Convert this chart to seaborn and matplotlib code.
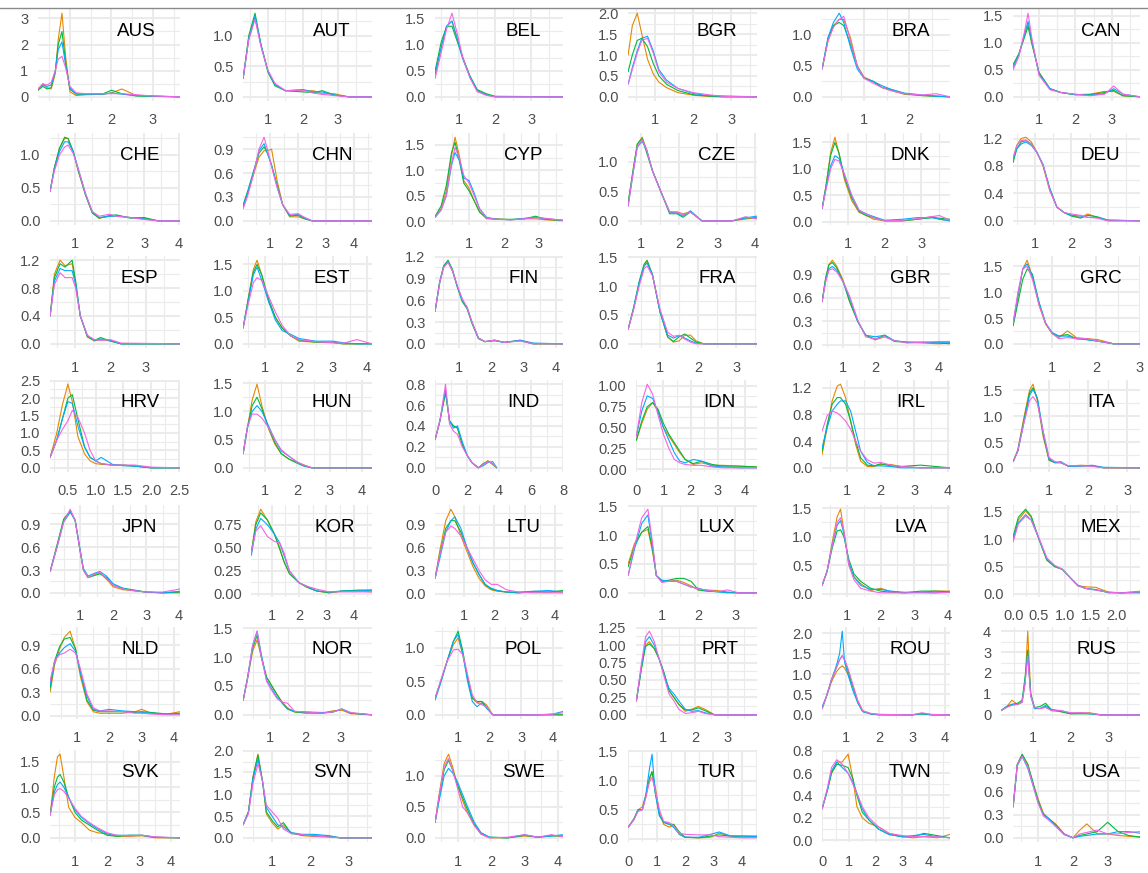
import matplotlib
matplotlib.use("Agg")
import matplotlib.pyplot as plt
from matplotlib.lines import Line2D
from matplotlib.ticker import MultipleLocator, FuncFormatter
import pandas as pd
import seaborn as sns

# facets, in reading order (6 per row)
COUNTRIES = ["AUS", "AUT", "BEL", "BGR", "BRA", "CAN",
             "CHE", "CHN", "CYP", "CZE", "DNK", "DEU",
             "ESP", "EST", "FIN", "FRA", "GBR", "GRC",
             "HRV", "HUN", "IND", "IDN", "IRL", "ITA",
             "JPN", "KOR", "LTU", "LUX", "LVA", "MEX",
             "NLD", "NOR", "POL", "PRT", "ROU", "RUS",
             "SVK", "SVN", "SWE", "TUR", "TWN", "USA"]
SERIES = ["wave 1", "wave 2", "wave 3", "wave 4"]

# tick spacing of each facet
Y_STEP = [1, 0.5, 0.5, 0.5, 0.5, 0.5,
          0.5, 0.3, 0.5, 0.5, 0.5, 0.4,
          0.4, 0.5, 0.3, 0.5, 0.3, 0.5,
          0.5, 0.5, 0.2, 0.25, 0.4, 0.5,
          0.3, 0.25, 0.3, 0.5, 0.5, 0.5,
          0.3, 0.5, 0.5, 0.25, 0.5, 1,
          0.5, 0.5, 0.5, 0.5, 0.2, 0.3]
X_STEP = [1, 1, 1, 1, 1, 1,
          1, 1, 1, 1, 1, 1,
          1, 1, 1, 1, 1, 1,
          0.5, 1, 2, 1, 1, 1,
          1, 1, 1, 1, 1, 0.5,
          1, 1, 1, 1, 1, 1,
          1, 1, 1, 1, 1, 1]
IND_XMAX = 8

# density curves: x knots, then one y list per series
aus_x = [0.23, 0.35, 0.45, 0.55, 0.65, 0.72, 0.81, 0.9, 1.0, 1.15, 1.4, 1.8, 2.0, 2.25, 2.6, 3.0, 3.65]
aus_y = [[0.25, 0.5, 0.35, 0.3, 0.9, 2.2, 3.2, 1.5, 0.2, 0.05, 0.08, 0.1, 0.15, 0.3, 0.05, 0.02, 0],
         [0.25, 0.4, 0.3, 0.35, 1.0, 2.0, 2.5, 1.3, 0.3, 0.1, 0.1, 0.12, 0.25, 0.12, 0.03, 0.02, 0],
         [0.3, 0.45, 0.4, 0.45, 1.0, 1.8, 2.1, 1.2, 0.35, 0.12, 0.1, 0.1, 0.15, 0.1, 0.05, 0.03, 0],
         [0.3, 0.5, 0.45, 0.55, 1.0, 1.45, 1.55, 1.1, 0.4, 0.15, 0.12, 0.12, 0.12, 0.12, 0.08, 0.03, 0]]
aut_x = [0.29, 0.45, 0.63, 0.8, 1.0, 1.2, 1.5, 2.0, 2.3, 2.55, 2.9, 3.3, 3.97]
aut_y = [[0.3, 0.95, 1.3, 0.85, 0.42, 0.2, 0.1, 0.1, 0.1, 0.05, 0.05, 0, 0],
         [0.3, 1.0, 1.37, 0.85, 0.4, 0.18, 0.1, 0.08, 0.07, 0.1, 0.03, 0, 0],
         [0.3, 0.95, 1.32, 0.85, 0.42, 0.2, 0.1, 0.12, 0.08, 0.08, 0.03, 0, 0],
         [0.3, 0.93, 1.27, 0.82, 0.43, 0.22, 0.1, 0.11, 0.06, 0.04, 0.02, 0, 0]]
bel_x = [0.33, 0.5, 0.65, 0.8, 0.95, 1.1, 1.3, 1.5, 1.75, 2.0, 3.89]
bel_y = [[0.4, 0.95, 1.35, 1.45, 1.1, 0.75, 0.38, 0.12, 0.04, 0, 0],
         [0.5, 1.05, 1.35, 1.35, 1.05, 0.75, 0.4, 0.14, 0.06, 0.01, 0],
         [0.45, 0.95, 1.35, 1.45, 1.1, 0.72, 0.38, 0.12, 0.04, 0, 0],
         [0.35, 0.85, 1.3, 1.6, 1.2, 0.75, 0.36, 0.1, 0.03, 0, 0]]
bgr_x = [0.29, 0.4, 0.53, 0.65, 0.8, 0.95, 1.1, 1.3, 1.6, 2.0, 2.4, 2.8, 3.68]
bgr_y = [[1.0, 1.7, 2.0, 1.5, 0.9, 0.55, 0.35, 0.22, 0.1, 0.04, 0.01, 0, 0],
         [0.6, 1.0, 1.35, 1.4, 1.2, 0.8, 0.5, 0.3, 0.15, 0.05, 0.02, 0, 0],
         [0.3, 0.7, 1.1, 1.4, 1.45, 1.1, 0.65, 0.4, 0.2, 0.08, 0.03, 0.02, 0],
         [0.3, 0.65, 1.05, 1.35, 1.4, 1.05, 0.6, 0.35, 0.2, 0.1, 0.05, 0.01, 0]]
bra_x = [0.07, 0.2, 0.32, 0.45, 0.55, 0.7, 0.85, 1.0, 1.2, 1.4, 1.6, 1.9, 2.3, 2.6, 2.91]
bra_y = [[0.45, 0.9, 1.15, 1.25, 1.25, 0.95, 0.5, 0.32, 0.25, 0.15, 0.1, 0.04, 0.02, 0.01, 0],
         [0.45, 0.95, 1.15, 1.2, 1.15, 0.85, 0.5, 0.3, 0.25, 0.15, 0.12, 0.05, 0.02, 0.01, 0],
         [0.45, 0.95, 1.2, 1.35, 1.2, 0.8, 0.45, 0.3, 0.25, 0.18, 0.12, 0.06, 0.03, 0.01, 0],
         [0.45, 0.9, 1.12, 1.25, 1.3, 0.9, 0.5, 0.3, 0.22, 0.15, 0.1, 0.05, 0.03, 0.05, 0]]
can_x = [0.29, 0.45, 0.6, 0.7, 0.8, 1.0, 1.3, 1.6, 2.0, 2.4, 2.8, 3.05, 3.3, 3.77]
can_y = [[0.55, 0.8, 1.15, 1.35, 1.0, 0.45, 0.15, 0.08, 0.04, 0.05, 0.1, 0.1, 0.02, 0],
         [0.6, 0.8, 1.1, 1.3, 1.0, 0.45, 0.15, 0.08, 0.04, 0.04, 0.08, 0.12, 0.02, 0],
         [0.55, 0.78, 1.15, 1.4, 1.05, 0.42, 0.15, 0.08, 0.04, 0.03, 0.06, 0.15, 0.05, 0],
         [0.5, 0.75, 1.2, 1.55, 1.1, 0.4, 0.13, 0.08, 0.05, 0.02, 0.05, 0.2, 0.05, 0]]
che_x = [0.28, 0.4, 0.55, 0.7, 0.8, 0.95, 1.1, 1.3, 1.5, 1.7, 2.0, 2.2, 2.6, 3.0, 3.4, 4.04]
che_y = [[0.45, 0.8, 1.1, 1.25, 1.25, 1.05, 0.75, 0.4, 0.12, 0.04, 0.07, 0.08, 0.05, 0.04, 0, 0],
         [0.45, 0.8, 1.1, 1.27, 1.25, 1.05, 0.75, 0.4, 0.12, 0.04, 0.08, 0.09, 0.04, 0.05, 0, 0],
         [0.45, 0.78, 1.05, 1.2, 1.2, 1.05, 0.78, 0.42, 0.14, 0.05, 0.07, 0.07, 0.05, 0.03, 0, 0],
         [0.45, 0.75, 1.0, 1.12, 1.15, 1.02, 0.78, 0.42, 0.14, 0.07, 0.1, 0.07, 0.05, 0.02, 0, 0]]
chn_x = [0.03, 0.2, 0.4, 0.6, 0.78, 0.9, 1.05, 1.25, 1.45, 1.7, 2.0, 2.2, 2.5, 4.65]
chn_y = [[0.18, 0.35, 0.58, 0.8, 0.88, 0.88, 0.9, 0.5, 0.2, 0.05, 0.05, 0.03, 0, 0],
         [0.2, 0.38, 0.62, 0.85, 0.93, 0.85, 0.7, 0.45, 0.2, 0.06, 0.07, 0.03, 0, 0],
         [0.18, 0.36, 0.6, 0.88, 0.97, 0.85, 0.7, 0.42, 0.2, 0.07, 0.08, 0.04, 0, 0],
         [0.15, 0.32, 0.58, 0.9, 1.05, 0.9, 0.68, 0.42, 0.2, 0.08, 0.09, 0.05, 0, 0]]
cyp_x = [0.03, 0.2, 0.35, 0.5, 0.6, 0.72, 0.85, 1.0, 1.15, 1.3, 1.5, 1.8, 2.2, 2.6, 2.9, 3.2, 3.69]
cyp_y = [[0.08, 0.25, 0.6, 1.3, 1.65, 1.3, 0.8, 0.65, 0.4, 0.2, 0.05, 0.05, 0.03, 0.05, 0.05, 0.03, 0.01],
         [0.1, 0.3, 0.7, 1.35, 1.55, 1.2, 0.75, 0.6, 0.4, 0.18, 0.06, 0.04, 0.04, 0.05, 0.1, 0.04, 0.02],
         [0.08, 0.22, 0.5, 1.1, 1.35, 1.2, 0.85, 0.8, 0.55, 0.25, 0.08, 0.04, 0.03, 0.06, 0.08, 0.05, 0.02],
         [0.08, 0.22, 0.5, 1.15, 1.45, 1.25, 0.9, 0.75, 0.5, 0.25, 0.06, 0.04, 0.03, 0.05, 0.07, 0.06, 0.02]]
cze_x = [0.66, 0.8, 0.9, 1.03, 1.15, 1.3, 1.55, 1.75, 1.95, 2.1, 2.3, 2.6, 3.4, 3.75, 4.05]
cze_y = [[0.3, 0.9, 1.3, 1.42, 1.2, 0.85, 0.45, 0.15, 0.15, 0.12, 0.15, 0, 0, 0.03, 0.05],
         [0.3, 0.9, 1.3, 1.4, 1.15, 0.85, 0.45, 0.12, 0.12, 0.06, 0.15, 0, 0, 0.05, 0.05],
         [0.25, 0.85, 1.25, 1.35, 1.2, 0.85, 0.45, 0.15, 0.13, 0.08, 0.17, 0, 0, 0.05, 0.08],
         [0.25, 0.85, 1.25, 1.38, 1.2, 0.85, 0.45, 0.15, 0.15, 0.1, 0.15, 0, 0, 0.07, 0.03]]
dnk_x = [0.29, 0.4, 0.52, 0.64, 0.75, 0.9, 1.1, 1.3, 1.5, 1.7, 2.0, 2.5, 2.9, 3.3, 3.5, 3.79]
dnk_y = [[0.25, 0.7, 1.3, 1.6, 1.3, 0.8, 0.4, 0.18, 0.12, 0.05, 0.02, 0.02, 0.05, 0.1, 0.05, 0.02],
         [0.25, 0.7, 1.25, 1.5, 1.3, 0.85, 0.45, 0.2, 0.12, 0.08, 0.02, 0.02, 0.05, 0.08, 0.07, 0.05],
         [0.25, 0.65, 1.05, 1.25, 1.2, 0.9, 0.5, 0.22, 0.15, 0.1, 0.03, 0.05, 0.08, 0.08, 0.05, 0.02],
         [0.25, 0.62, 1.0, 1.18, 1.15, 0.9, 0.5, 0.22, 0.15, 0.08, 0.02, 0.03, 0.06, 0.1, 0.12, 0.03]]
deu_x = [0.40, 0.5, 0.62, 0.75, 0.9, 1.05, 1.22, 1.4, 1.6, 1.8, 2.0, 2.25, 2.45, 2.7, 3.0, 3.88]
deu_y = [[0.9, 1.1, 1.2, 1.22, 1.15, 1.0, 0.8, 0.45, 0.2, 0.12, 0.08, 0.05, 0.1, 0.05, 0, 0],
         [0.85, 1.05, 1.15, 1.17, 1.12, 1.0, 0.82, 0.48, 0.2, 0.12, 0.07, 0.04, 0.08, 0.06, 0.01, 0],
         [0.9, 1.05, 1.12, 1.15, 1.1, 1.0, 0.82, 0.48, 0.2, 0.12, 0.08, 0.07, 0.05, 0.05, 0.01, 0],
         [0.92, 1.1, 1.17, 1.18, 1.12, 1.0, 0.82, 0.45, 0.2, 0.12, 0.1, 0.08, 0.05, 0.04, 0, 0]]
esp_x = [0.30, 0.42, 0.58, 0.72, 0.92, 1.02, 1.15, 1.35, 1.55, 1.72, 2.0, 2.3, 3.96]
esp_y = [[0.4, 1.0, 1.2, 1.12, 1.15, 0.85, 0.4, 0.1, 0.04, 0.06, 0.04, 0, 0],
         [0.4, 0.95, 1.15, 1.1, 1.2, 0.9, 0.4, 0.1, 0.05, 0.09, 0.04, 0, 0],
         [0.4, 0.9, 1.08, 1.05, 1.05, 0.85, 0.4, 0.12, 0.05, 0.07, 0.05, 0, 0],
         [0.4, 0.85, 1.02, 0.95, 0.95, 0.8, 0.4, 0.12, 0.06, 0.05, 0.06, 0.01, 0]]
est_x = [0.35, 0.5, 0.65, 0.76, 0.9, 1.1, 1.3, 1.5, 1.75, 2.0, 2.5, 3.0, 3.3, 3.7, 4.15]
est_y = [[0.3, 0.85, 1.4, 1.58, 1.3, 0.8, 0.5, 0.3, 0.15, 0.05, 0.03, 0.02, 0, 0, 0],
         [0.3, 0.85, 1.35, 1.5, 1.3, 0.85, 0.5, 0.3, 0.15, 0.07, 0.03, 0.03, 0, 0, 0],
         [0.3, 0.8, 1.3, 1.45, 1.2, 0.8, 0.45, 0.25, 0.18, 0.1, 0.05, 0.05, 0.02, 0, 0],
         [0.3, 0.75, 1.15, 1.25, 1.2, 0.9, 0.6, 0.35, 0.15, 0.08, 0.04, 0.02, 0.01, 0.08, 0]]
fin_x = [0.26, 0.4, 0.52, 0.66, 0.8, 0.95, 1.1, 1.25, 1.4, 1.6, 1.8, 2.1, 2.4, 2.9, 3.3, 4.22]
fin_y = [[0.45, 0.85, 1.05, 1.13, 1.0, 0.78, 0.6, 0.5, 0.3, 0.08, 0.03, 0.05, 0.02, 0.05, 0, 0],
         [0.45, 0.85, 1.07, 1.15, 1.02, 0.78, 0.58, 0.48, 0.28, 0.07, 0.03, 0.05, 0.02, 0.04, 0, 0],
         [0.45, 0.83, 1.05, 1.13, 1.0, 0.78, 0.6, 0.5, 0.3, 0.08, 0.03, 0.04, 0.02, 0.05, 0.01, 0],
         [0.45, 0.84, 1.05, 1.12, 1.0, 0.8, 0.62, 0.5, 0.3, 0.08, 0.03, 0.05, 0.02, 0.04, 0, 0]]
fra_x = [0.16, 0.3, 0.45, 0.58, 0.66, 0.8, 1.0, 1.2, 1.35, 1.5, 1.65, 1.8, 1.95, 2.15, 3.55]
fra_y = [[0.25, 0.6, 1.05, 1.35, 1.42, 1.2, 0.55, 0.12, 0.03, 0.05, 0.15, 0.15, 0.05, 0, 0],
         [0.25, 0.62, 1.08, 1.38, 1.45, 1.2, 0.55, 0.12, 0.04, 0.12, 0.17, 0.1, 0.03, 0, 0],
         [0.25, 0.6, 1.05, 1.35, 1.4, 1.2, 0.55, 0.15, 0.1, 0.14, 0.1, 0.05, 0.01, 0, 0],
         [0.25, 0.58, 1.0, 1.3, 1.35, 1.18, 0.6, 0.2, 0.13, 0.15, 0.08, 0.03, 0, 0, 0]]
gbr_x = [0.34, 0.45, 0.55, 0.66, 0.8, 1.0, 1.2, 1.45, 1.7, 2.0, 2.3, 2.6, 3.0, 3.5, 4.0, 4.34]
gbr_y = [[0.55, 0.85, 1.02, 1.08, 1.0, 0.82, 0.55, 0.3, 0.12, 0.06, 0.1, 0.05, 0.03, 0.02, 0.01, 0.02],
         [0.55, 0.85, 1.02, 1.05, 0.98, 0.8, 0.55, 0.3, 0.12, 0.07, 0.12, 0.04, 0.03, 0.03, 0.02, 0.01],
         [0.55, 0.82, 0.97, 1.0, 0.95, 0.8, 0.6, 0.3, 0.12, 0.1, 0.12, 0.05, 0.03, 0.03, 0.03, 0.03],
         [0.55, 0.8, 0.95, 0.97, 0.93, 0.8, 0.62, 0.32, 0.1, 0.07, 0.1, 0.05, 0.02, 0.03, 0.04, 0.04]]
grc_x = [0.11, 0.22, 0.33, 0.43, 0.55, 0.7, 0.85, 1.0, 1.15, 1.35, 1.55, 1.8, 2.05, 2.4, 3.0]
grc_y = [[0.35, 0.9, 1.45, 1.62, 1.3, 0.75, 0.38, 0.2, 0.12, 0.25, 0.12, 0.1, 0.08, 0, 0],
         [0.35, 0.8, 1.25, 1.45, 1.35, 0.8, 0.4, 0.2, 0.15, 0.18, 0.1, 0.08, 0.05, 0, 0],
         [0.4, 0.95, 1.45, 1.55, 1.3, 0.8, 0.4, 0.22, 0.15, 0.15, 0.1, 0.08, 0.05, 0, 0],
         [0.4, 1.0, 1.45, 1.5, 1.25, 0.75, 0.4, 0.2, 0.1, 0.12, 0.1, 0.1, 0.05, 0, 0]]
hrv_x = [0.18, 0.3, 0.4, 0.5, 0.58, 0.68, 0.8, 0.9, 1.0, 1.1, 1.3, 1.5, 1.7, 2.0, 2.52]
hrv_y = [[0.3, 1.0, 1.8, 2.4, 1.9, 0.9, 0.4, 0.2, 0.12, 0.1, 0.08, 0.07, 0.05, 0, 0],
         [0.3, 0.8, 1.4, 2.0, 2.1, 1.4, 0.6, 0.3, 0.2, 0.12, 0.08, 0.08, 0.05, 0, 0],
         [0.3, 0.8, 1.4, 1.9, 1.85, 1.2, 0.6, 0.3, 0.2, 0.3, 0.1, 0.06, 0.05, 0, 0],
         [0.3, 0.8, 1.1, 1.35, 1.65, 1.45, 1.0, 0.5, 0.2, 0.12, 0.08, 0.08, 0.08, 0.02, 0]]
hun_x = [0.32, 0.45, 0.6, 0.75, 0.9, 1.1, 1.3, 1.5, 1.75, 2.0, 2.2, 2.45, 4.31]
hun_y = [[0.25, 0.7, 1.2, 1.48, 1.1, 0.7, 0.42, 0.25, 0.15, 0.1, 0.05, 0, 0],
         [0.25, 0.7, 1.1, 1.25, 1.05, 0.72, 0.45, 0.25, 0.15, 0.08, 0.03, 0, 0],
         [0.25, 0.7, 1.0, 1.1, 1.0, 0.75, 0.5, 0.3, 0.2, 0.1, 0.04, 0, 0],
         [0.25, 0.72, 0.95, 0.95, 0.88, 0.72, 0.5, 0.32, 0.2, 0.1, 0.05, 0, 0]]
ind_x = [0.0, 0.3, 0.65, 0.9, 1.15, 1.4, 1.7, 2.0, 2.3, 2.7, 3.0, 3.3, 3.6, 3.85]
ind_y = [[0.27, 0.45, 0.72, 0.45, 0.4, 0.38, 0.22, 0.12, 0.05, 0.0, 0.03, 0.07, 0.03, 0.0],
         [0.27, 0.45, 0.72, 0.45, 0.4, 0.38, 0.22, 0.12, 0.05, 0.0, 0.04, 0.06, 0.04, 0.0],
         [0.27, 0.45, 0.75, 0.45, 0.38, 0.4, 0.25, 0.12, 0.05, 0.0, 0.02, 0.05, 0.06, 0.0],
         [0.27, 0.45, 0.8, 0.42, 0.35, 0.32, 0.2, 0.12, 0.05, 0.0, 0.03, 0.06, 0.04, 0.0]]
idn_x = [0.0, 0.2, 0.4, 0.6, 0.8, 1.0, 1.2, 1.4, 1.6, 1.8, 2.1, 2.4, 2.8, 3.2, 3.8, 4.45]
idn_y = [[0.35, 0.55, 0.72, 0.8, 0.7, 0.5, 0.4, 0.3, 0.2, 0.12, 0.06, 0.08, 0.05, 0.05, 0.04, 0.03],
         [0.35, 0.58, 0.75, 0.8, 0.72, 0.55, 0.42, 0.32, 0.22, 0.12, 0.07, 0.1, 0.06, 0.04, 0.04, 0.03],
         [0.4, 0.7, 0.88, 0.85, 0.68, 0.5, 0.35, 0.2, 0.1, 0.08, 0.12, 0.1, 0.04, 0.03, 0.02, 0.02],
         [0.4, 0.8, 1.02, 0.9, 0.65, 0.42, 0.25, 0.12, 0.08, 0.06, 0.05, 0.05, 0.03, 0.02, 0.02, 0.02]]
irl_x = [0.25, 0.4, 0.55, 0.7, 0.8, 0.95, 1.1, 1.25, 1.4, 1.6, 1.8, 2.0, 2.3, 2.6, 3.2, 4.07]
irl_y = [[0.2, 0.6, 1.0, 1.22, 1.25, 1.05, 0.7, 0.35, 0.1, 0.02, 0.02, 0.05, 0.05, 0.02, 0, 0],
         [0.25, 0.65, 0.95, 1.05, 1.05, 0.95, 0.7, 0.4, 0.15, 0.04, 0.03, 0.06, 0.03, 0.02, 0.04, 0],
         [0.3, 0.6, 0.85, 0.95, 1.0, 1.0, 0.85, 0.55, 0.25, 0.08, 0.03, 0.03, 0.02, 0, 0, 0],
         [0.55, 0.78, 0.85, 0.82, 0.78, 0.7, 0.58, 0.4, 0.25, 0.12, 0.07, 0.08, 0.04, 0.02, 0, 0]]
ita_x = [0.08, 0.2, 0.35, 0.5, 0.59, 0.7, 0.85, 1.0, 1.15, 1.3, 1.5, 1.8, 2.1, 2.4, 3.33]
ita_y = [[0.12, 0.35, 0.95, 1.5, 1.62, 1.3, 0.6, 0.15, 0.1, 0.1, 0.03, 0.05, 0.04, 0, 0],
         [0.12, 0.33, 0.9, 1.45, 1.55, 1.35, 0.65, 0.15, 0.1, 0.1, 0.03, 0.04, 0.04, 0, 0],
         [0.12, 0.32, 0.85, 1.4, 1.52, 1.35, 0.7, 0.18, 0.1, 0.12, 0.03, 0.03, 0.05, 0.01, 0],
         [0.12, 0.32, 0.85, 1.3, 1.38, 1.25, 0.7, 0.2, 0.12, 0.1, 0.04, 0.04, 0.03, 0, 0]]
jpn_x = [0.09, 0.3, 0.5, 0.7, 0.85, 1.0, 1.1, 1.24, 1.45, 1.6, 1.8, 2.0, 2.3, 2.6, 3.0, 3.5, 4.03]
jpn_y = [[0.28, 0.62, 0.95, 1.07, 0.95, 0.55, 0.3, 0.2, 0.24, 0.26, 0.18, 0.08, 0.04, 0.03, 0.01, 0, 0],
         [0.28, 0.63, 0.97, 1.08, 0.95, 0.55, 0.3, 0.2, 0.23, 0.25, 0.2, 0.1, 0.06, 0.04, 0.01, 0, 0.01],
         [0.28, 0.6, 0.93, 1.06, 0.96, 0.57, 0.32, 0.22, 0.26, 0.28, 0.22, 0.12, 0.06, 0.03, 0.01, 0, 0.02],
         [0.28, 0.6, 0.93, 1.1, 0.95, 0.55, 0.3, 0.2, 0.25, 0.27, 0.18, 0.1, 0.05, 0.03, 0.01, 0.01, 0.05]]
kor_x = [0.26, 0.42, 0.6, 0.85, 1.1, 1.3, 1.45, 1.65, 2.0, 2.3, 2.65, 3.1, 3.6, 4.2, 4.67]
kor_y = [[0.45, 0.78, 0.92, 0.8, 0.65, 0.5, 0.35, 0.22, 0.12, 0.07, 0.03, 0.01, 0.03, 0.03, 0.02],
         [0.45, 0.75, 0.88, 0.8, 0.65, 0.48, 0.35, 0.22, 0.12, 0.07, 0.03, 0.01, 0.03, 0.04, 0.04],
         [0.42, 0.7, 0.82, 0.75, 0.65, 0.55, 0.42, 0.25, 0.12, 0.08, 0.03, 0.02, 0.03, 0.03, 0.04],
         [0.45, 0.68, 0.74, 0.62, 0.57, 0.55, 0.45, 0.25, 0.12, 0.08, 0.05, 0.02, 0.02, 0.02, 0.02]]
ltu_x = [0.05, 0.2, 0.4, 0.57, 0.7, 0.9, 1.1, 1.3, 1.5, 1.7, 1.9, 2.1, 2.4, 2.8, 3.3, 3.8, 4.27]
ltu_y = [[0.2, 0.55, 0.95, 1.1, 1.0, 0.75, 0.55, 0.35, 0.2, 0.1, 0.05, 0.03, 0.02, 0.01, 0.03, 0.02, 0.02],
         [0.2, 0.5, 0.85, 0.95, 0.95, 0.8, 0.6, 0.4, 0.25, 0.12, 0.06, 0.04, 0.02, 0.01, 0.02, 0.02, 0.04],
         [0.2, 0.45, 0.8, 0.95, 1.0, 0.85, 0.6, 0.4, 0.25, 0.12, 0.07, 0.04, 0.02, 0.02, 0.03, 0.04, 0.02],
         [0.2, 0.5, 0.8, 0.88, 0.85, 0.75, 0.6, 0.45, 0.3, 0.18, 0.12, 0.12, 0.05, 0.02, 0.01, 0.01, 0.01]]
lux_x = [0.08, 0.25, 0.45, 0.62, 0.75, 0.85, 1.0, 1.2, 1.4, 1.6, 1.8, 2.0, 2.2, 2.5, 2.8, 3.1, 3.6]
lux_y = [[0.5, 0.85, 1.05, 1.1, 0.7, 0.3, 0.2, 0.2, 0.22, 0.18, 0.12, 0.05, 0.05, 0.04, 0.01, 0, 0],
         [0.45, 0.8, 1.05, 1.15, 0.75, 0.3, 0.2, 0.22, 0.25, 0.25, 0.2, 0.05, 0.03, 0.02, 0.01, 0, 0],
         [0.3, 0.75, 1.2, 1.35, 0.8, 0.3, 0.22, 0.2, 0.2, 0.15, 0.1, 0.08, 0.04, 0.02, 0, 0, 0],
         [0.3, 0.8, 1.3, 1.45, 0.85, 0.3, 0.18, 0.2, 0.2, 0.15, 0.1, 0.07, 0.05, 0.02, 0.05, 0, 0]]
lva_x = [0.25, 0.4, 0.55, 0.7, 0.8, 0.9, 1.05, 1.2, 1.4, 1.7, 2.0, 2.3, 2.7, 3.2, 3.6, 4.07]
lva_y = [[0.15, 0.4, 0.9, 1.35, 1.48, 1.1, 0.5, 0.3, 0.18, 0.06, 0.1, 0.04, 0.02, 0.03, 0.05, 0.05],
         [0.15, 0.4, 0.8, 1.1, 1.12, 1.0, 0.6, 0.35, 0.22, 0.1, 0.05, 0.03, 0.02, 0.05, 0.05, 0.04],
         [0.15, 0.4, 0.85, 1.2, 1.28, 1.05, 0.55, 0.3, 0.15, 0.08, 0.08, 0.05, 0.03, 0.03, 0.02, 0.03],
         [0.15, 0.4, 0.85, 1.25, 1.33, 1.1, 0.5, 0.25, 0.1, 0.05, 0.02, 0.02, 0.02, 0.02, 0.02, 0.03]]
mex_x = [0.0, 0.1, 0.24, 0.35, 0.5, 0.65, 0.8, 0.95, 1.1, 1.25, 1.4, 1.6, 1.85, 2.1, 2.45]
mex_y = [[1.0, 1.35, 1.52, 1.4, 1.0, 0.62, 0.5, 0.45, 0.3, 0.15, 0.13, 0.12, 0.03, 0.02, 0.05],
         [1.05, 1.4, 1.55, 1.42, 1.0, 0.62, 0.5, 0.45, 0.3, 0.15, 0.1, 0.08, 0.02, 0.02, 0.03],
         [1.0, 1.3, 1.45, 1.35, 1.0, 0.65, 0.52, 0.45, 0.3, 0.16, 0.1, 0.07, 0.03, 0.02, 0.02],
         [0.95, 1.28, 1.42, 1.35, 1.02, 0.66, 0.52, 0.45, 0.3, 0.15, 0.1, 0.07, 0.03, 0.02, 0.04]]
nld_x = [0.16, 0.3, 0.45, 0.6, 0.78, 0.95, 1.1, 1.3, 1.5, 1.7, 2.0, 2.4, 2.8, 3.0, 3.3, 3.8, 4.19]
nld_y = [[0.3, 0.65, 0.85, 1.0, 1.08, 0.85, 0.5, 0.18, 0.05, 0.03, 0.03, 0.03, 0.05, 0.08, 0.03, 0.02, 0.05],
         [0.35, 0.7, 0.88, 0.98, 1.0, 0.85, 0.55, 0.2, 0.07, 0.05, 0.05, 0.05, 0.04, 0.05, 0.04, 0.02, 0.03],
         [0.4, 0.7, 0.8, 0.87, 0.92, 0.82, 0.55, 0.25, 0.08, 0.06, 0.08, 0.06, 0.05, 0.04, 0.03, 0.02, 0.02],
         [0.45, 0.7, 0.78, 0.8, 0.85, 0.8, 0.6, 0.28, 0.1, 0.06, 0.06, 0.05, 0.03, 0.03, 0.02, 0.01, 0.01]]
nor_x = [0.23, 0.35, 0.5, 0.63, 0.75, 0.9, 1.05, 1.2, 1.35, 1.5, 1.7, 2.0, 2.5, 2.8, 3.05, 3.3, 3.91]
nor_y = [[0.25, 0.6, 1.1, 1.3, 1.0, 0.65, 0.5, 0.35, 0.22, 0.12, 0.05, 0.04, 0.03, 0.07, 0.08, 0.02, 0],
         [0.25, 0.62, 1.15, 1.38, 1.0, 0.65, 0.5, 0.35, 0.2, 0.1, 0.05, 0.03, 0.03, 0.05, 0.1, 0.03, 0],
         [0.25, 0.62, 1.2, 1.45, 1.05, 0.6, 0.45, 0.3, 0.2, 0.1, 0.06, 0.05, 0.04, 0.05, 0.1, 0.03, 0],
         [0.25, 0.6, 1.2, 1.45, 1.0, 0.58, 0.42, 0.28, 0.22, 0.2, 0.06, 0.05, 0.03, 0.05, 0.1, 0.04, 0]]
pol_x = [0.27, 0.45, 0.65, 0.85, 1.0, 1.15, 1.3, 1.45, 1.6, 1.75, 1.9, 2.1, 3.5, 4.0, 4.33]
pol_y = [[0.25, 0.5, 0.8, 1.05, 1.15, 0.9, 0.55, 0.25, 0.18, 0.2, 0.15, 0, 0, 0, 0],
         [0.25, 0.5, 0.8, 1.1, 1.25, 0.95, 0.55, 0.25, 0.2, 0.2, 0.12, 0, 0, 0, 0],
         [0.22, 0.48, 0.8, 1.1, 1.2, 0.9, 0.5, 0.2, 0.12, 0.18, 0.1, 0, 0, 0.01, 0.05],
         [0.25, 0.52, 0.8, 0.97, 0.98, 0.9, 0.6, 0.3, 0.18, 0.15, 0.12, 0, 0, 0.01, 0.03]]
prt_x = [0.2, 0.35, 0.48, 0.6, 0.75, 0.9, 1.05, 1.2, 1.35, 1.5, 1.7, 1.9, 2.1, 2.3, 2.6, 3.9]
prt_y = [[0.2, 0.65, 1.0, 1.05, 0.95, 0.8, 0.6, 0.35, 0.25, 0.15, 0.05, 0.08, 0.12, 0.08, 0, 0],
         [0.2, 0.65, 0.98, 1.02, 0.95, 0.8, 0.6, 0.35, 0.25, 0.15, 0.07, 0.07, 0.1, 0.06, 0, 0],
         [0.2, 0.68, 1.05, 1.12, 1.0, 0.8, 0.58, 0.38, 0.3, 0.2, 0.08, 0.05, 0.06, 0.03, 0, 0],
         [0.2, 0.72, 1.12, 1.2, 1.05, 0.8, 0.55, 0.3, 0.2, 0.08, 0.02, 0.03, 0.05, 0.02, 0, 0]]
rou_x = [0.27, 0.4, 0.55, 0.7, 0.8, 0.88, 0.95, 1.05, 1.2, 1.35, 1.5, 1.75, 2.0, 3.0, 3.3, 3.6, 4.15]
rou_y = [[0.15, 0.45, 0.8, 1.05, 1.15, 1.2, 1.15, 1.0, 0.7, 0.35, 0.1, 0.03, 0.01, 0, 0.03, 0, 0],
         [0.15, 0.45, 0.85, 1.15, 1.35, 1.45, 1.35, 1.1, 0.7, 0.3, 0.08, 0.02, 0, 0, 0.02, 0, 0],
         [0.2, 0.45, 0.85, 1.2, 1.5, 2.05, 1.3, 1.0, 0.6, 0.3, 0.08, 0.02, 0, 0, 0.03, 0, 0],
         [0.15, 0.45, 0.85, 1.15, 1.35, 1.45, 1.35, 1.15, 0.75, 0.35, 0.1, 0.03, 0.01, 0, 0.05, 0.01, 0]]
rus_x = [0.16, 0.3, 0.45, 0.6, 0.72, 0.8, 0.87, 0.95, 1.05, 1.2, 1.34, 1.5, 1.75, 2.0, 2.3, 2.5, 2.8, 3.84]
rus_y = [[0.2, 0.35, 0.7, 0.5, 0.6, 1.5, 4.0, 1.0, 0.3, 0.3, 0.4, 0.2, 0.15, 0.05, 0.08, 0.1, 0, 0],
         [0.2, 0.35, 0.5, 0.55, 0.7, 1.8, 3.1, 1.0, 0.35, 0.4, 0.55, 0.25, 0.15, 0.05, 0.05, 0.05, 0, 0],
         [0.2, 0.4, 0.5, 0.5, 0.6, 1.6, 2.9, 0.9, 0.3, 0.3, 0.45, 0.25, 0.2, 0.08, 0.08, 0.05, 0, 0],
         [0.2, 0.35, 0.45, 0.5, 0.6, 1.5, 2.8, 0.9, 0.35, 0.3, 0.35, 0.2, 0.2, 0.1, 0.1, 0.08, 0, 0]]
svk_x = [0.22, 0.35, 0.45, 0.53, 0.65, 0.8, 1.0, 1.2, 1.45, 1.7, 2.0, 2.3, 2.7, 3.1, 3.5, 4.28]
svk_y = [[0.45, 1.2, 1.6, 1.65, 1.2, 0.6, 0.4, 0.3, 0.15, 0.1, 0.08, 0.03, 0.03, 0.04, 0, 0],
         [0.45, 1.0, 1.2, 1.25, 1.1, 0.8, 0.5, 0.35, 0.25, 0.15, 0.05, 0.03, 0.05, 0.05, 0.01, 0],
         [0.45, 0.9, 1.05, 1.1, 1.0, 0.8, 0.55, 0.4, 0.28, 0.18, 0.08, 0.05, 0.05, 0.05, 0.01, 0],
         [0.45, 0.85, 0.95, 0.97, 0.92, 0.78, 0.58, 0.42, 0.3, 0.2, 0.1, 0.05, 0.04, 0.05, 0.02, 0]]
svn_x = [0.24, 0.38, 0.5, 0.63, 0.75, 0.85, 1.0, 1.15, 1.3, 1.5, 1.8, 2.1, 2.5, 2.8, 3.63]
svn_y = [[0.3, 0.6, 1.4, 1.92, 1.3, 0.55, 0.35, 0.2, 0.3, 0.12, 0.05, 0.03, 0.02, 0, 0],
         [0.3, 0.6, 1.4, 1.9, 1.3, 0.6, 0.4, 0.25, 0.35, 0.1, 0.06, 0.05, 0.03, 0, 0],
         [0.3, 0.58, 1.35, 1.8, 1.3, 0.7, 0.5, 0.3, 0.25, 0.12, 0.08, 0.08, 0.05, 0, 0],
         [0.3, 0.55, 1.25, 1.7, 1.3, 0.75, 0.6, 0.45, 0.2, 0.1, 0.07, 0.04, 0.02, 0, 0]]
swe_x = [0.33, 0.45, 0.6, 0.73, 0.85, 1.0, 1.15, 1.3, 1.5, 1.7, 1.95, 2.5, 3.0, 3.4, 3.8, 4.15]
swe_y = [[0.25, 0.7, 1.2, 1.35, 1.15, 0.85, 0.6, 0.4, 0.2, 0.06, 0, 0, 0.03, 0.01, 0.04, 0.02],
         [0.25, 0.65, 1.1, 1.25, 1.1, 0.85, 0.65, 0.45, 0.22, 0.08, 0.01, 0, 0.04, 0.01, 0.03, 0.03],
         [0.25, 0.6, 1.0, 1.12, 1.05, 0.9, 0.7, 0.5, 0.25, 0.08, 0.01, 0, 0.05, 0.01, 0.03, 0.05],
         [0.25, 0.68, 1.15, 1.28, 1.1, 0.8, 0.5, 0.4, 0.2, 0.06, 0, 0.01, 0.05, 0.01, 0.05, 0.02]]
tur_x = [0.0, 0.2, 0.35, 0.5, 0.62, 0.75, 0.84, 0.95, 1.1, 1.25, 1.45, 1.6, 1.8, 2.0, 2.5, 2.9, 3.2, 3.6, 4.0, 4.53]
tur_y = [[0.2, 0.35, 0.5, 0.55, 0.75, 1.0, 1.15, 0.9, 0.45, 0.25, 0.2, 0.25, 0.08, 0.03, 0.02, 0.03, 0.1, 0.05, 0.03, 0.03],
         [0.2, 0.33, 0.5, 0.5, 0.72, 1.05, 1.15, 0.8, 0.4, 0.28, 0.25, 0.25, 0.12, 0.03, 0.02, 0.05, 0.07, 0.05, 0.05, 0.05],
         [0.2, 0.33, 0.5, 0.5, 0.75, 1.2, 1.45, 0.8, 0.4, 0.3, 0.25, 0.2, 0.08, 0.03, 0.03, 0.08, 0.12, 0.05, 0.05, 0.04],
         [0.2, 0.33, 0.47, 0.5, 0.7, 0.98, 1.05, 0.85, 0.5, 0.3, 0.28, 0.22, 0.1, 0.08, 0.07, 0.07, 0.04, 0.03, 0.02, 0.02]]
twn_x = [0.0, 0.2, 0.35, 0.55, 0.75, 0.97, 1.15, 1.3, 1.5, 1.75, 2.1, 2.5, 3.0, 3.4, 3.8, 4.3, 4.78]
twn_y = [[0.28, 0.45, 0.6, 0.7, 0.7, 0.77, 0.55, 0.3, 0.2, 0.15, 0.12, 0.06, 0.03, 0.02, 0.03, 0.02, 0.05],
         [0.28, 0.45, 0.6, 0.68, 0.67, 0.65, 0.55, 0.4, 0.25, 0.18, 0.1, 0.05, 0.03, 0.03, 0.06, 0.04, 0.02],
         [0.28, 0.45, 0.62, 0.7, 0.65, 0.6, 0.52, 0.42, 0.28, 0.18, 0.1, 0.05, 0.03, 0.04, 0.05, 0.03, 0.02],
         [0.28, 0.47, 0.65, 0.72, 0.68, 0.6, 0.5, 0.42, 0.3, 0.2, 0.12, 0.06, 0.04, 0.03, 0.03, 0.03, 0.02]]
usa_x = [0.28, 0.4, 0.54, 0.7, 0.85, 1.0, 1.15, 1.3, 1.5, 1.75, 2.0, 2.2, 2.4, 2.7, 3.0, 3.3, 3.6, 3.93]
usa_y = [[0.4, 0.95, 1.07, 0.95, 0.7, 0.5, 0.32, 0.25, 0.18, 0.05, 0.0, 0.1, 0.18, 0.05, 0.05, 0.03, 0.02, 0.01],
         [0.4, 0.95, 1.08, 0.95, 0.72, 0.48, 0.3, 0.25, 0.17, 0.05, 0.0, 0.03, 0.05, 0.08, 0.2, 0.08, 0.03, 0.01],
         [0.4, 0.93, 1.05, 0.9, 0.68, 0.45, 0.3, 0.25, 0.15, 0.04, 0.0, 0.02, 0.03, 0.05, 0.05, 0.08, 0.08, 0.06],
         [0.4, 0.95, 1.05, 0.92, 0.68, 0.45, 0.28, 0.23, 0.15, 0.05, 0.0, 0.05, 0.07, 0.1, 0.05, 0.05, 0.07, 0.08]]

CURVES = {
    "AUS": (aus_x, aus_y), "AUT": (aut_x, aut_y), "BEL": (bel_x, bel_y),
    "BGR": (bgr_x, bgr_y), "BRA": (bra_x, bra_y), "CAN": (can_x, can_y),
    "CHE": (che_x, che_y), "CHN": (chn_x, chn_y), "CYP": (cyp_x, cyp_y),
    "CZE": (cze_x, cze_y), "DNK": (dnk_x, dnk_y), "DEU": (deu_x, deu_y),
    "ESP": (esp_x, esp_y), "EST": (est_x, est_y), "FIN": (fin_x, fin_y),
    "FRA": (fra_x, fra_y), "GBR": (gbr_x, gbr_y), "GRC": (grc_x, grc_y),
    "HRV": (hrv_x, hrv_y), "HUN": (hun_x, hun_y), "IND": (ind_x, ind_y),
    "IDN": (idn_x, idn_y), "IRL": (irl_x, irl_y), "ITA": (ita_x, ita_y),
    "JPN": (jpn_x, jpn_y), "KOR": (kor_x, kor_y), "LTU": (ltu_x, ltu_y),
    "LUX": (lux_x, lux_y), "LVA": (lva_x, lva_y), "MEX": (mex_x, mex_y),
    "NLD": (nld_x, nld_y), "NOR": (nor_x, nor_y), "POL": (pol_x, pol_y),
    "PRT": (prt_x, prt_y), "ROU": (rou_x, rou_y), "RUS": (rus_x, rus_y),
    "SVK": (svk_x, svk_y), "SVN": (svn_x, svn_y), "SWE": (swe_x, swe_y),
    "TUR": (tur_x, tur_y), "TWN": (twn_x, twn_y), "USA": (usa_x, usa_y),
}

rows = []
for c in COUNTRIES:
    xs, ys_list = CURVES[c]
    for s, ys in zip(SERIES, ys_list):
        assert len(xs) == len(ys), (c, s)
        for x, y in zip(xs, ys):
            rows.append((c, s, x, y))
df = pd.DataFrame(rows, columns=["country", "series", "x", "y"])

# ---- styling / layout ----
sns.set_theme(style="white")
plt.rcParams["font.family"] = ["Liberation Sans", "DejaVu Sans"]

PALETTE = dict(zip(SERIES, ["#E58700", "#00BA38", "#00A9FF", "#F564E3"]))
GRID = "#EBEBEB"
TICK_SIZE = 10.5
W, H = 1148, 873
REF_LEFT = [50, 243, 435, 628, 822, 1013]   # panel left when y labels look like "1.0"
RIGHT = [180, 372, 563, 757, 950, 1140]
ROW_BOTTOM = [101, 225, 348, 472, 597, 719, 842]
PANEL_H = 92


def fmt_for(step):
    if step >= 1:
        dec = 0
    elif round(step * 10) == step * 10:
        dec = 1
    else:
        dec = 2
    return FuncFormatter(lambda v, p: f"{v:.{dec}f}")


fig = plt.figure(figsize=(W / 100, H / 100), dpi=100)
panels = []
for i, c in enumerate(COUNTRIES):
    r, k = divmod(i, 6)
    ax = fig.add_axes([REF_LEFT[k] / W, 1 - ROW_BOTTOM[r] / H,
                       (RIGHT[k] - REF_LEFT[k]) / W, PANEL_H / H])
    sns.lineplot(data=df[df["country"] == c], x="x", y="y", hue="series",
                 hue_order=SERIES, palette=PALETTE, estimator=None, sort=False,
                 legend=False, linewidth=0.8, ax=ax)
    ax.margins(x=0, y=0.05)
    ax.autoscale_view()
    if c == "IND":
        ax.set_xlim(0, IND_XMAX)
    ax.set(xlabel="", ylabel="")
    for sp in ax.spines.values():
        sp.set_visible(False)
    xs_, ys_ = X_STEP[i], Y_STEP[i]
    ax.xaxis.set_major_locator(MultipleLocator(xs_))
    ax.xaxis.set_minor_locator(MultipleLocator(xs_ / 2))
    ax.yaxis.set_major_locator(MultipleLocator(ys_))
    ax.yaxis.set_minor_locator(MultipleLocator(ys_ / 2))
    ax.xaxis.set_major_formatter(fmt_for(xs_))
    ax.yaxis.set_major_formatter(fmt_for(ys_))
    ax.grid(which="major", color=GRID, linewidth=1.5)
    ax.grid(which="minor", color=GRID, linewidth=0.8)
    ax.set_axisbelow(True)
    ax.tick_params(which="both", length=0, labelsize=TICK_SIZE, labelcolor="#4D4D4D")
    ax.tick_params(axis="x", pad=9)
    ax.tick_params(axis="y", pad=7)
    ax.text(0.69, 0.755, c, transform=ax.transAxes, ha="center", va="center",
            fontsize=13.5, color="black")
    panels.append((ax, r, k))

# panels shrink from the left by the width of their y labels
fig.canvas.draw()
rend = fig.canvas.get_renderer()
probe = fig.text(0, 0, "1.0", fontsize=TICK_SIZE)
w_ref = probe.get_window_extent(rend).width
probe.remove()
for ax, r, k in panels:
    lo, hi = ax.get_ylim()
    locs = ax.yaxis.get_majorticklocs()
    labs = ax.yaxis.get_majorticklabels()
    widths = [t.get_window_extent(rend).width for v, t in zip(locs, labs)
              if lo - 1e-9 <= v <= hi + 1e-9 and t.get_text()]
    w = max(widths) if widths else w_ref
    left = REF_LEFT[k] + (w - w_ref)
    ax.set_position([left / W, 1 - ROW_BOTTOM[r] / H,
                     (RIGHT[k] - left) / W, PANEL_H / H])

fig.add_artist(Line2D([0, 1], [1 - 8 / H, 1 - 8 / H], color="#8A8A8A", linewidth=1))

fig.savefig("out.png", dpi=100)
